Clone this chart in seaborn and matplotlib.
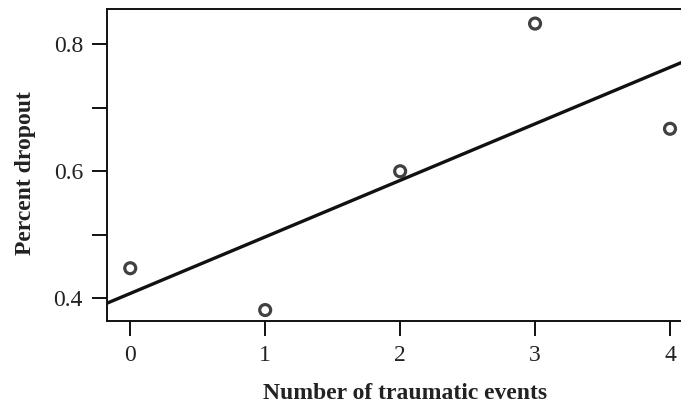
import matplotlib
matplotlib.use("Agg")
import matplotlib.pyplot as plt
import seaborn as sns
import pandas as pd

events = [0, 1, 2, 3, 4]
dropout = [0.447, 0.381, 0.600, 0.833, 0.667]
xticks = [0, 1, 2, 3, 4]
yticks = [0.4, 0.5, 0.6, 0.7, 0.8]
ytick_labels = ["0.4", "", "0.6", "", "0.8"]

df = pd.DataFrame({"events": events, "dropout": dropout})

sns.set_style("ticks")
plt.rcParams["font.family"] = ["Liberation Serif", "DejaVu Serif"]

fig = plt.figure(figsize=(6.81, 4.07), dpi=100)
ax = fig.add_axes([107.3 / 681, 1 - 320.7 / 407, (691.6 - 107.3) / 681, (320.7 - 9) / 407])

sns.regplot(data=df, x="events", y="dropout", ax=ax, ci=None, truncate=False,
            scatter_kws={"facecolors": "none", "edgecolors": "#111111", "s": 62, "linewidths": 2.3},
            line_kws={"color": "#111111", "linewidth": 2.4})
ax.set_xlim(-0.17, 4.16)
ax.set_ylim(0.3642, 0.856)

ax.set_xticks(xticks)
ax.set_xticklabels([str(t) for t in xticks])
ax.set_yticks(yticks)
ax.set_yticklabels(ytick_labels)

ax.tick_params(axis="both", direction="out", length=10.5, width=1.4, color="#111111",
               labelsize=17, labelcolor="#222222", pad=7)

for side in ["left", "bottom", "top"]:
    ax.spines[side].set_visible(True)
    ax.spines[side].set_linewidth(1.4)
    ax.spines[side].set_color("#111111")
ax.spines["right"].set_visible(False)

ax.set_xlabel("Number of traumatic events", fontsize=17, fontweight="bold", color="#222222", labelpad=12)
ax.set_ylabel("Percent dropout", fontsize=17, fontweight="bold", color="#222222", labelpad=13)
ax.xaxis.label.set_x(0.509)
ax.yaxis.label.set_y(0.474)

fig.savefig("out.png", dpi=100)
